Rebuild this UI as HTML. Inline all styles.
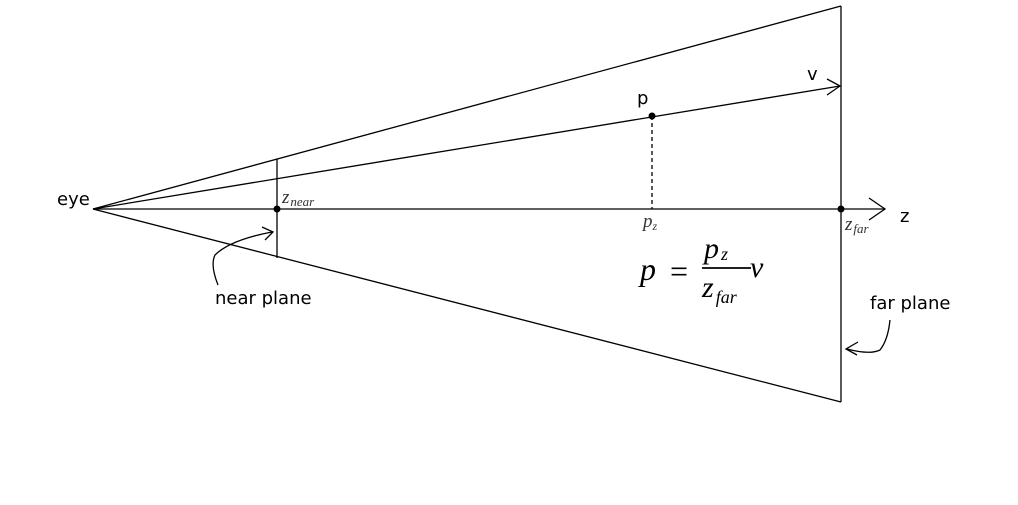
<!DOCTYPE html>
<html><head><meta charset="utf-8"><style>
html,body{margin:0;padding:0;background:#fff;}
svg{display:block}
.s{font-family:"DejaVu Sans","Liberation Sans",sans-serif;font-size:18px;fill:#000}
.m{font-family:"Liberation Serif","DejaVu Serif",serif;font-style:italic;fill:#333}
</style></head><body>
<svg width="1018" height="505" viewBox="0 0 1018 505" xmlns="http://www.w3.org/2000/svg">
<g stroke="#000" stroke-width="1.3" fill="none">
<line x1="93" y1="209" x2="841" y2="6"/>
<line x1="93" y1="209" x2="841" y2="402"/>
<line x1="841" y1="6" x2="841" y2="402"/>
<line x1="277" y1="159" x2="277" y2="258"/>
<line x1="93" y1="209" x2="885" y2="209"/>
<polyline points="869,198 885,209 869,220"/>
<line x1="93" y1="209" x2="840" y2="86"/>
<polyline points="827,79 840,86 827,95"/>
<line x1="652" y1="116" x2="652" y2="209" stroke-dasharray="4,3"/>
<path d="M272,232 Q230,240 215,255 Q210,265 218,285"/>
<polyline points="262,227 273,232 265,240"/>
<path d="M847,349 Q870,355 880,350 Q888,340 890,320"/>
<polyline points="858,342 846,349 857,355"/>
</g>
<circle cx="277" cy="209" r="3.5"/>
<circle cx="841" cy="209" r="3.5"/>
<circle cx="652" cy="116" r="3.5"/>
<text class="s" x="57" y="205">eye</text>
<text class="s" x="637" y="104">p</text>
<text class="s" x="807" y="80">v</text>
<text class="s" x="900" y="222">z</text>
<text class="s" x="215" y="304">near plane</text>
<text class="s" x="870" y="309">far plane</text>
<text class="m" x="282" y="203" font-size="19">z<tspan font-size="13" dx="1" dy="3">near</tspan></text>
<text class="m" x="643" y="227" font-size="19">p<tspan font-size="12" dy="3">z</tspan></text>
<text class="m" x="845" y="230" font-size="19">z<tspan font-size="13" dx="1" dy="3">far</tspan></text>
<g class="m" style="fill:#000">
<text x="640" y="280" font-size="32">p</text>
<text x="670" y="282" font-size="32" style="font-style:normal">=</text>
<text x="704" y="258" font-size="30">p<tspan font-size="18" dx="2" dy="2">z</tspan></text>
<line x1="702" y1="268" x2="751" y2="268" stroke="#000" stroke-width="1.8"/>
<text x="702" y="297" font-size="30">z<tspan font-size="18" dx="2" dy="6">far</tspan></text>
<text x="750" y="277" font-size="30">v</text>
</g>
</svg>
</body></html>
